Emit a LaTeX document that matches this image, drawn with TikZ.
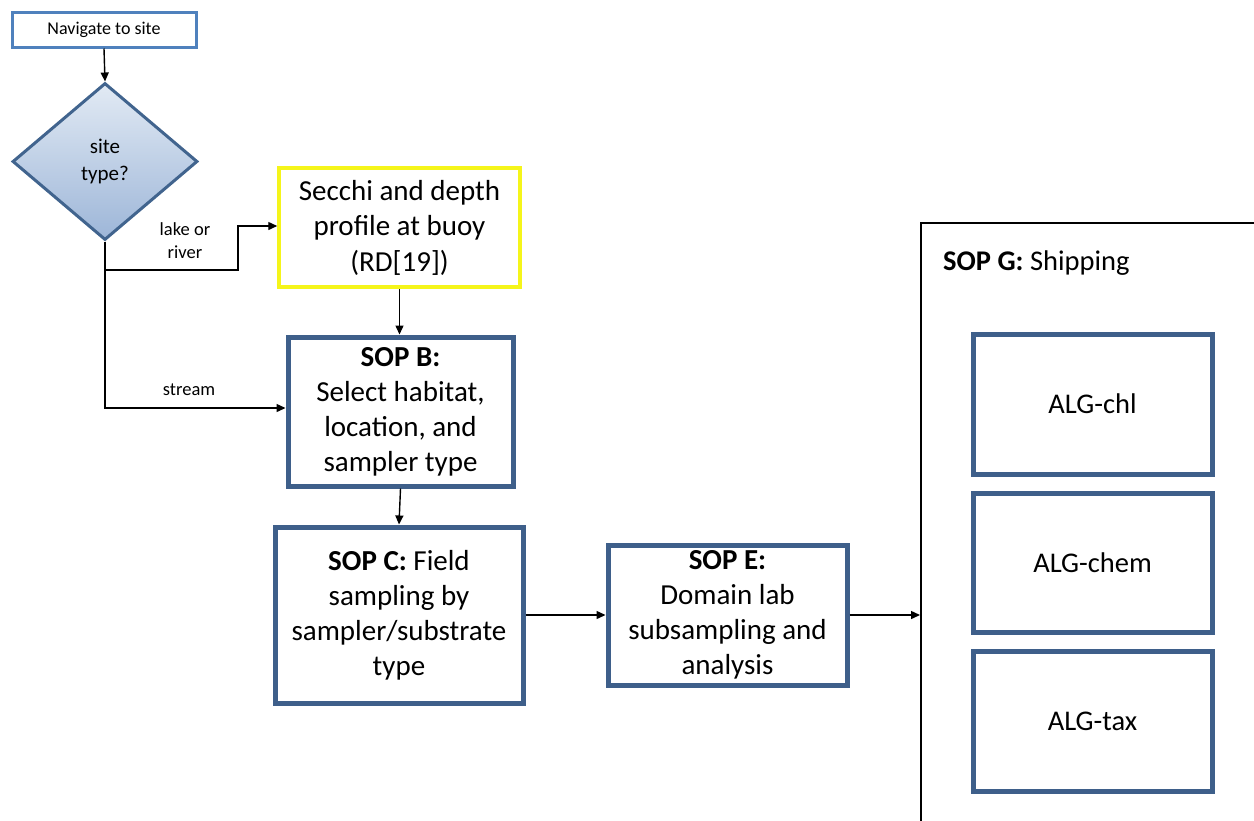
\documentclass[tikz,border=0pt]{standalone}
\usepackage{fontspec}
\setmainfont{Carlito}
\usetikzlibrary{arrows.meta,shapes.geometric,shadings}
\definecolor{boxblue}{HTML}{3E5F8A}
\definecolor{lightblue}{HTML}{4F81BD}
\definecolor{diaedge}{HTML}{41648E}
\definecolor{diatop}{HTML}{E2EAF4}
\definecolor{diabot}{HTML}{9DB6D8}
\definecolor{ylw}{HTML}{F5F51A}
\tikzset{
  conn/.style={line width=1.4pt,-{Triangle[length=9pt,width=8pt]}},
  plainline/.style={line width=1.4pt},
  sopbox/.style={draw=boxblue,line width=5pt,fill=white,align=center,inner sep=0pt,font=\fontsize{29}{35}\selectfont},
  algbox/.style={draw=boxblue,line width=5pt,fill=white,align=center,inner sep=0pt,font=\fontsize{28.5}{34}\selectfont},
  lbl/.style={font=\fontsize{18.5}{23}\selectfont,align=center}
}
\begin{document}
\begin{tikzpicture}[x=1pt,y=-1pt]
\useasboundingbox (0,0) rectangle (1254,820);
\clip (0,0) rectangle (1254,820);
\fill[white] (0,0) rectangle (1254,820);
% nodes
\node[draw=lightblue,line width=3pt,minimum width=184pt,minimum height=35pt,inner sep=0pt,font=\fontsize{18}{22}\selectfont] (nav) at (104,29.5) {Navigate to site};
\node[diamond,draw=diaedge,line width=3pt,top color=diatop,bottom color=diabot,minimum width=185pt,minimum height=157pt,inner sep=0pt,align=center,font=\fontsize{21}{27}\selectfont] (dia) at (105,161.5) {site\\type?};
\node[draw=ylw,line width=3.5pt,minimum width=241pt,minimum height=119pt,inner sep=0pt,align=center,font=\fontsize{29}{35.5}\selectfont] (secchi) at (399.5,227.5) {Secchi and depth\\profile at buoy\\(RD[19])};
\node[sopbox,minimum width=225pt,minimum height=149pt] (sopb) at (400.5,411.5) {\textbf{SOP B:}\\Select habitat,\\location, and\\sampler type};
\node[sopbox,minimum width=248pt,minimum height=176pt] (sopc) at (399,615) {\textbf{SOP C:} Field\\sampling by\\sampler/substrate\\type};
\node[sopbox,minimum width=239pt,minimum height=140pt] (sope) at (727.5,615) {\textbf{SOP E:}\\Domain lab\\subsampling and\\analysis};
\node[draw=black,line width=2pt,minimum width=400pt,minimum height=700pt,anchor=north west,inner sep=0pt] (sopg) at (920,222) {};
\node[anchor=west,font=\fontsize{28.5}{34}\selectfont,inner sep=0pt] (sopgt) at (943,263) {\textbf{SOP G:} Shipping};
\node[algbox,minimum width=239pt,minimum height=140pt] (chl) at (1092.5,404) {ALG-chl};
\node[algbox,minimum width=239pt,minimum height=139pt] (chem) at (1092.5,562.5) {ALG-chem};
\node[algbox,minimum width=239pt,minimum height=140pt] (tax) at (1092.5,721) {ALG-tax};
% connectors
\coordinate (br) at (105,270);
\draw[conn] (nav.south) -- (dia.north);
\draw[conn] (dia.south) |- (sopb.west |- 0,408);
\node[lbl] (lstream) at (189,390) {stream};
\draw[plainline] (dia.south) -- (br);
\draw[conn] (br) -- (238,270) |- (secchi.west |- 0,226);
\node[lbl] (llake) at (185,241) {lake or\\river};
\draw[conn] (secchi.south) -- (sopb.north -| secchi.south);
\draw[conn] (sopb.south) -- (sopc.north);
\draw[conn] (sopc.east) -- (sope.west);
\draw[conn] (sope.east) -- (sope.east -| sopg.west);
\end{tikzpicture}
\end{document}
